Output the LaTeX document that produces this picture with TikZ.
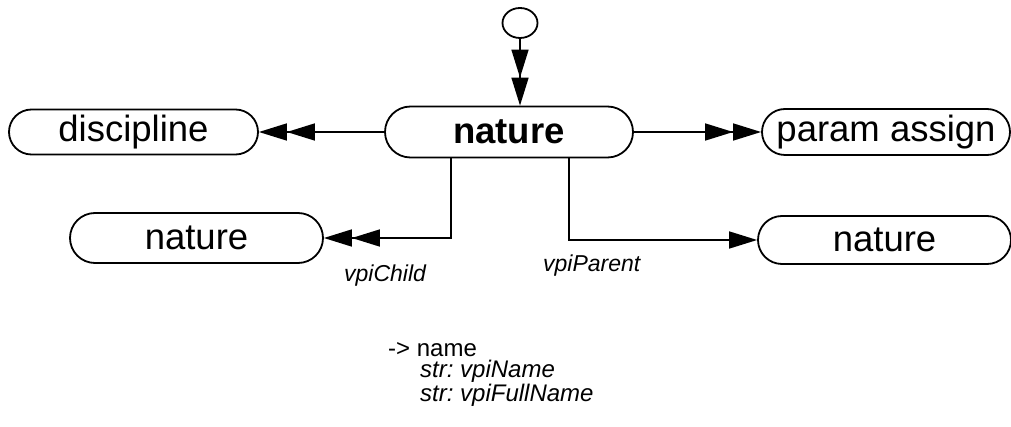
\documentclass[tikz,border=0pt]{standalone}
\usepackage{fontspec}
\setmainfont{Liberation Sans}
\frenchspacing
\usetikzlibrary{arrows.meta,shapes.misc,shapes.geometric}
\begin{document}
\begin{tikzpicture}[x=1pt,y=-1pt,
  box/.style={draw, line width=1.8pt, rounded rectangle, inner sep=0pt,
    font=\fontsize{36.5}{40}\selectfont},
  conn/.style={line width=1.6pt},
  tip/.style={-{Triangle[length=28pt,width=17pt]}},
  dtip/.style={-{Triangle[length=28pt,width=17pt]Triangle[length=28pt,width=17pt]}},
  lbl/.style={inner sep=0pt, anchor=base west, font=\fontsize{23}{26}\selectfont\itshape},
  txt/.style={inner sep=0pt, anchor=base west, align=left, font=\fontsize{24}{21}\selectfont\frenchspacing}]
\useasboundingbox (0,0) rectangle (1011,427);
\node[box, minimum width=248pt, minimum height=51pt, font=\fontsize{36.5}{40}\selectfont\bfseries] (c) at (509,132) {nature};
\node[box, minimum width=249pt, minimum height=45pt] (d) at (133.5,132) {discipline};
\node[box, minimum width=248pt, minimum height=46pt] (p) at (886,132) {param assign};
\node[box, minimum width=253pt, minimum height=50pt] (l) at (196.5,238) {nature};
\node[box, minimum width=253pt, minimum height=48pt] (r) at (884.5,240) {nature};
\node[draw, line width=1.8pt, ellipse, minimum width=35pt, minimum height=30pt, inner sep=0pt] (s) at (520,23) {};
\draw[conn, dtip] (s.south) -- (s.south |- c.north);
\draw[conn, dtip] (c.west) -- (d.east);
\draw[conn, dtip] (c.east) -- (p.west);
\draw[conn, dtip] ([xshift=-58pt]c.south) |- (l.east);
\draw[conn, tip] ([xshift=60pt]c.south) |- (r.west);
\node[lbl] (lc) at (344,282) {vpiChild};
\node[lbl] (lp) at (543,272) {vpiParent};
\node[txt] (t1) at (388,401) {-> name\\\hspace*{32pt}\itshape str: vpiName\\\hspace*{32pt}\itshape str: vpiFullName};
\end{tikzpicture}
\end{document}
